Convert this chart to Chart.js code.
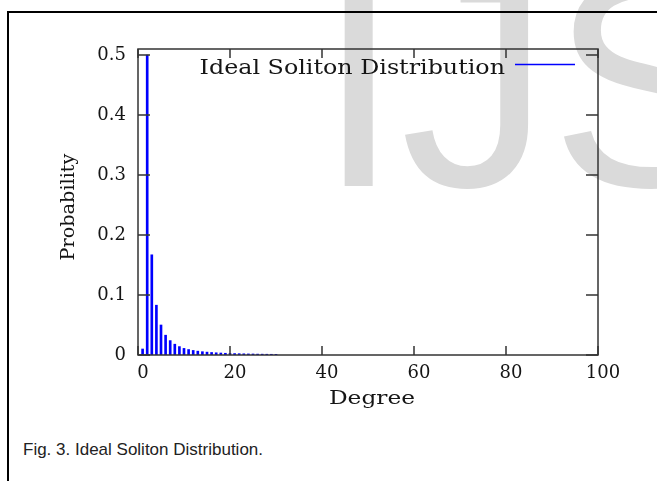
<!DOCTYPE html>
<html>
<head>
<meta charset="utf-8">
<script src="https://cdn.jsdelivr.net/npm/chart.js@4.4.1/dist/chart.umd.min.js"></script>
<style>
  html, body { margin: 0; padding: 0; background: #fff; }
  body { width: 657px; height: 481px; position: relative; overflow: hidden; }
  #frame {
    position: absolute; left: 7px; top: 11px; width: 700px; height: 500px;
    border-left: 2px solid #000; border-top: 2px solid #000;
  }
  #mark {
    position: absolute; left: 317px; top: -68px;
    font-family: "Liberation Sans", Arial, sans-serif; font-size: 300px;
    color: #dadada; line-height: 1; white-space: nowrap;
  }
  #caption {
    position: absolute; left: 23px; top: 440px;
    font-family: "Liberation Sans", Arial, sans-serif; font-size: 17px; color: #222;
  }
  #grafico { position: absolute; left: 0; top: 0; }
</style>
</head>
<body>
<div id="mark">IJSER</div>
<div id="frame"></div>
<div id="caption">Fig. 3. Ideal Soliton Distribution.</div>
<canvas id="grafico" width="657" height="481"></canvas>
<script>
// values (degree -> probability)
const degrees = [1, 2, 3, 4, 5, 6, 7, 8, 9, 10, 11, 12, 13, 14, 15, 16, 17, 18, 19, 20,
  21, 22, 23, 24, 25, 26, 27, 28, 29, 30];
const probabilities = [0.01, 0.5, 0.167, 0.083, 0.05, 0.033, 0.024, 0.018, 0.014, 0.011,
  0.0091, 0.0076, 0.0064, 0.0055, 0.0048, 0.0042, 0.0037, 0.0033, 0.0029, 0.0026,
  0.0024, 0.0022, 0.002, 0.0018, 0.0017, 0.0015, 0.0014, 0.0013, 0.0012, 0.0011];
const xTicks = [0, 20, 40, 60, 80, 100];
const yTicks = [0, 0.1, 0.2, 0.3, 0.4, 0.5];
const legendText = "Ideal Soliton Distribution";
const xTitle = "Degree";
const yTitle = "Probability";

const serif = "'DejaVu Serif', serif";
const inkColor = "#151515";
const barColor = "#0000ff";

// the original font has wider glyphs than DejaVu, so stretch the text sideways
function wideText(ctx, text, x, y, font, stretch, align) {
  ctx.save();
  ctx.translate(x, y);
  ctx.scale(stretch, 1);
  ctx.font = font;
  ctx.textAlign = align;
  ctx.fillText(text, 0, 0);
  ctx.restore();
}

// gnuplot style box: frame plus inward ticks on all four sides, key and axis titles
const gnuplotFrame = {
  id: "gnuplotFrame",
  afterDraw: function (chart) {
    const ctx = chart.ctx;
    const a = chart.chartArea;
    const xs = chart.scales.x;
    const ys = chart.scales.y;
    ctx.save();
    ctx.strokeStyle = "#333";
    ctx.lineWidth = 1.5;
    ctx.strokeRect(a.left, a.top, a.right - a.left, a.bottom - a.top);

    ctx.beginPath();
    xTicks.forEach(function (v) {
      const px = xs.getPixelForValue(v);
      ctx.moveTo(px, a.bottom);
      ctx.lineTo(px, a.bottom - 9);
      ctx.moveTo(px, a.top);
      ctx.lineTo(px, a.top + 9);
    });
    yTicks.forEach(function (v) {
      const py = ys.getPixelForValue(v);
      ctx.moveTo(a.left, py);
      ctx.lineTo(a.left + 12, py);
      ctx.moveTo(a.right, py);
      ctx.lineTo(a.right - 12, py);
    });
    ctx.stroke();

    ctx.fillStyle = inkColor;
    ctx.textBaseline = "alphabetic";

    // key
    wideText(ctx, legendText, a.right - 93, a.top + 25, "19.5px " + serif, 1.22, "right");
    ctx.strokeStyle = barColor;
    ctx.lineWidth = 1.5;
    ctx.beginPath();
    ctx.moveTo(a.right - 83, a.top + 15.5);
    ctx.lineTo(a.right - 23, a.top + 15.5);
    ctx.stroke();

    // axis titles
    wideText(ctx, xTitle, (a.left + a.right) / 2 + 4, a.bottom + 49, "18.5px " + serif, 1.26, "center");
    ctx.translate(74, (a.top + a.bottom) / 2 + 5);
    ctx.rotate(-Math.PI / 2);
    wideText(ctx, yTitle, 0, 0, "18.5px " + serif, 1.04, "center");
    ctx.restore();
  },
};

const ctx = document.getElementById("grafico");

new Chart(ctx, {
  type: "bar",
  data: {
    datasets: [
      {
        label: legendText,
        data: degrees.map(function (d, i) {
          return { x: d, y: probabilities[i] };
        }),
        backgroundColor: barColor,
        borderWidth: 0,
        barThickness: 2,
      },
    ],
  },
  options: {
    responsive: false,
    animation: false,
    devicePixelRatio: 1,
    layout: { padding: { top: 49, right: 59, left: 0, bottom: 0 } },
    plugins: {
      legend: { display: false },
      tooltip: { enabled: false },
    },
    scales: {
      x: {
        type: "linear",
        min: 0,
        max: 100,
        offset: false,
        grid: { display: false, drawTicks: false },
        border: { display: false },
        afterBuildTicks: function (scale) {
          scale.ticks = xTicks.map(function (v) { return { value: v }; });
        },
        afterFit: function (scale) {
          scale.height = 126;
        },
        ticks: {
          padding: 8,
          labelOffset: 5,
          maxRotation: 0,
          autoSkip: false,
          color: inkColor,
          font: { family: serif, size: 18 },
        },
      },
      y: {
        min: 0,
        max: 0.51,
        grid: { display: false, drawTicks: false },
        border: { display: false },
        afterBuildTicks: function (scale) {
          scale.ticks = yTicks.map(function (v) { return { value: v }; });
        },
        afterFit: function (scale) {
          scale.width = 138;
        },
        ticks: {
          padding: 12,
          autoSkip: false,
          color: inkColor,
          font: { family: serif, size: 18 },
          callback: function (v) {
            return v === 0 ? "0" : v.toFixed(1);
          },
        },
      },
    },
  },
  plugins: [gnuplotFrame],
});
</script>
</body>
</html>
